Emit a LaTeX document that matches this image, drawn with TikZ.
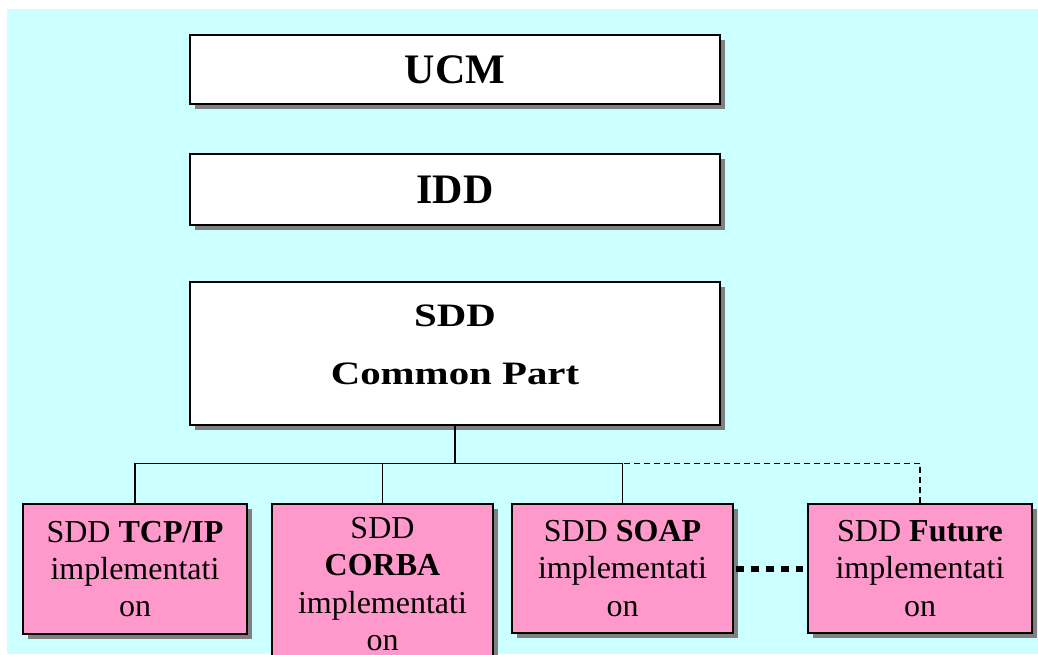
\documentclass[tikz,border=0pt]{standalone}
\usepackage{fontspec}
\usepackage{graphicx}
\setmainfont{Liberation Serif}
\usetikzlibrary{shadows}
\definecolor{bgcyan}{HTML}{CCFFFF}
\definecolor{boxpink}{HTML}{FF99CC}
\definecolor{shadowgray}{HTML}{808080}
\tikzset{
  boxbase/.style={draw=black, line width=1.2pt, inner sep=0pt,
    drop shadow={shadow xshift=3.9pt, shadow yshift=-3.6pt, fill=shadowgray, opacity=1}},
  whitebox/.style={boxbase, fill=white, minimum width=397.5pt},
  pinkbox/.style={boxbase, fill=boxpink, align=center,
    font=\fontsize{24}{28}\selectfont},
  bigtext/.style={font=\fontsize{31.5}{36}\selectfont\bfseries, inner sep=0pt},
  midtext/.style={font=\fontsize{24.5}{43.5}\selectfont\bfseries, align=center, inner sep=0pt},
  conn/.style={draw=black, line width=1.3pt},
  futureconn/.style={draw=black, line width=1.2pt, dash pattern=on 4.5pt off 3pt},
  thickdots/.style={draw=black, line width=4.5pt, dash pattern=on 6pt off 5.3pt}
}
\begin{document}
\begin{tikzpicture}[x=0.75pt, y=-0.75pt]
  \clip (0,0) rectangle (1038,655);
  \fill[white] (0,0) rectangle (1038,655);
  \fill[bgcyan] (7,9) rectangle (1037.7,653.5);

  % top boxes
  \node[whitebox, minimum height=51.75pt] (ucm) at (455,69.5) {};
  \node[bigtext] (ucmt) at (ucm.center) {UCM};
  \node[whitebox, minimum height=53.25pt] (idd) at (455,189.5) {};
  \node[bigtext] (iddt) at (idd.center) {IDD};
  \node[whitebox, minimum height=107.25pt] (common) at (455,353.5) {};
  \node[midtext] (commont) at (455,345) {\scalebox{1.25}[1]{SDD}\\\scalebox{1.25}[1]{Common Part}};

  % implementation boxes
  \node[pinkbox, minimum width=168pt, minimum height=97.5pt] (tcp) at (135,569)
    {SDD \textbf{TCP/IP}\\implementati\\on};
  \node[pinkbox, minimum width=165.75pt, minimum height=120pt] (corba) at (382.5,584)
    {SDD\\\textbf{CORBA}\\implementati\\on};
  \node[pinkbox, minimum width=165.75pt, minimum height=96.75pt] (soap) at (622.5,568.5)
    {SDD \textbf{SOAP}\\implementati\\on};
  \node[pinkbox, minimum width=168pt, minimum height=96.75pt] (future) at (920,568.5)
    {SDD \textbf{Future}\\implementati\\on};

  % tree connectors
  \coordinate (bus) at (455,463.5);
  \draw[conn] (common.south) -- (bus);
  \draw[conn] (tcp.north) |- (bus);
  \draw[conn] (soap.north) |- (bus);
  \draw[conn] (corba.north) -- (corba.north |- bus);
  \draw[futureconn] (future.north) |- (soap.north |- bus);

  % thick dotted link
  \draw[thickdots, shorten <=1.5pt, shorten >=3.5pt] (soap.east) -- (future.west);
\end{tikzpicture}
\end{document}
